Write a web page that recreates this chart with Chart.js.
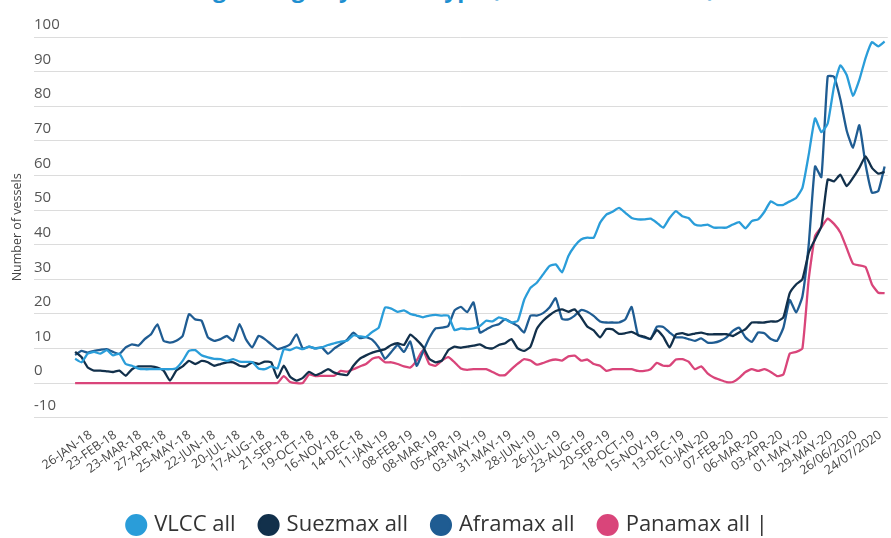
<!DOCTYPE html>
<html>
<head>
<meta charset="utf-8">
<script src="https://cdn.jsdelivr.net/npm/chart.js@4.4.1/dist/chart.umd.min.js"></script>
<style>
  html, body { margin: 0; padding: 0; background: #fff; overflow: hidden; }
  #wrap { position: relative; width: 891px; height: 538px; overflow: hidden; }
  #title {
    position: absolute; left: 133px; top: -24px;
    font: bold 23px "Open Sans", sans-serif; line-height: 24px;
    color: #1e8fd0; white-space: nowrap;
  }
  #box { position: absolute; left: 0; top: 0; width: 891px; height: 538px; }
</style>
</head>
<body>
<div id="wrap">
  <div id="title">Floating storage by vessel type (number of vessels)</div>
  <div id="box"><canvas id="chart"></canvas></div>
</div>
<script>
// Tick labels, one every 4 weekly observations
const tickLabels = ['26-JAN-18', '23-FEB-18', '23-MAR-18', '27-APR-18', '25-MAY-18', '22-JUN-18', '20-JUL-18',
  '17-AUG-18', '21-SEP-18', '19-OCT-18', '16-NOV-18', '14-DEC-18', '11-JAN-19', '08-FEB-19', '08-MAR-19',
  '05-APR-19', '03-MAY-19', '31-MAY-19', '28-JUN-19', '26-JUL-19', '23-AUG-19', '20-SEP-19', '18-OCT-19',
  '15-NOV-19', '13-DEC-19', '10-JAN-20', '07-FEB-20', '06-MAR-20', '03-APR-20', '01-MAY-20', '29-MAY-20',
  '26/06/2020', '24/07/2020'];

const seriesNames = ['VLCC all', 'Suezmax all', 'Aframax all', 'Panamax all |'];

// Weekly values (number of vessels)
const vlcc = [
  7, 6, 8.5, 9, 8.5, 9.5, 8, 8.5, 5.5, 5, 4.2, 4, 4, 4, 4, 4, 4.3, 6.4, 9.3, 9.5, 8, 7.4, 7, 6.9, 6.4, 6.9,
  6.2, 6.1, 6.1, 4.2, 4, 4.8, 4.2, 9.8, 9.5, 10.3, 9.8, 10.5, 10, 10.3, 11, 11.5,
  12, 12.2, 13.8, 13.5, 13.3, 14.8, 16, 21.8, 21.5, 20.6, 21, 20, 19.5, 19, 19.5, 19.7, 19.5, 19.5, 15.3, 15.8,
  15.6, 15.8,
  16.5, 18, 17.8, 19, 18.4, 17.5, 18, 24, 27.5, 29, 31.4, 33.8, 34.3, 32, 36.7, 39.6, 41.5, 42, 42, 46.3, 48.7,
  49.5, 50.6, 49.2, 47.7, 47.3, 47.3, 47.5, 46.3, 44.9, 47.7, 49.7, 48.2, 47.7, 45.8, 45.5, 45.8, 44.9,
  44.9, 44.9, 45.8, 46.5, 44.7, 46.8, 47.3, 49.5, 52.5, 51.5, 51.5, 52.5, 53.5, 56.4, 66, 76.5, 72.5, 75, 85.7,
  91.8, 89, 83, 87.6, 94, 98.5, 97.3, 98.7];

const suezmax = [
  9, 7.5, 4.5, 3.6, 3.6, 3.4, 3.2, 3.6, 2.1, 4, 4.8, 4.8, 4.8, 4.5, 3.6, 0.7, 3.6, 4.8, 6.4, 5.5, 6.4, 6, 5,
  5.5, 6, 6, 5, 4.8, 6, 5.5, 6.2, 6, 1.5, 5, 1.8, 0.7,
  1.5, 3.2, 2.3, 3, 4, 3, 2.5, 2.3, 5, 7, 8, 8.8,
  9.3, 9.8, 11, 11.5, 11, 14, 12.5, 10.5, 7, 6, 6.5, 9.5, 10.5, 10.2, 10.5, 10.8,
  11.2, 10.2, 10, 11, 11.5, 12.7, 10, 9.3, 10.5, 15.6, 18, 19.6, 20.8, 21.3, 20.6, 21.3,
  19, 16.3, 15.2, 13.2, 15.6, 15.5, 14.2, 14.4, 14.8, 13.9, 13.4, 12.8, 15.3, 13.4, 10.3, 14, 14.4, 13.9,
  14.3, 14.6, 14.1, 14.1,
  14.1, 14.1, 13.6, 14.6, 15.6, 17.5, 17.5, 17.5, 17.8, 17.8, 19, 26, 28.5, 30, 37.7, 41.5, 45.3, 58.8, 58.3,
  60.2, 56.9, 59.3, 62.2, 65.5, 62.2, 60.5, 61];

const aframax = [
  8.1, 9.3, 8.8, 9.3, 9.6, 9.8, 9, 8.4, 10.3, 11.2, 10.8, 12.7, 14.1, 17, 12.2, 11.7, 12.2, 13.6, 19.9, 18.4,
  18, 13.2, 12.2, 12.7, 13.6, 12.2, 17, 12.7, 10.3, 13.6, 12.7, 11.2, 9.8, 10.3, 11.2, 14.1,
  10, 10.5, 10, 10.3, 8.5, 10, 11.2, 12.5, 14.6, 13, 13.3, 12.5,
  10.3, 7, 9, 11, 9, 12, 5, 9, 13, 15.8, 16, 16.5, 21, 22, 20.5, 23.3,
  14.6, 15.5, 16.5, 17, 18.5, 17.5, 16.5, 14.6, 19.5, 19.5, 20.2, 21.8, 24.5, 18.5, 18.4, 19.5,
  21.1, 20.6, 19.4, 17.8, 17.5, 17.5, 17.5, 18.4, 22, 13.9, 13.2, 12.7, 16.3, 16.2, 14.6, 13.2, 13.2, 12.7,
  12.2, 12.9, 11.7, 11.7,
  12.2, 13.2, 15.1, 16, 13.2, 11.9, 14.6, 14.4, 12.7, 12.2, 16, 24, 20.4, 25, 40, 62.6, 59.5, 88.6, 88.5,
  82, 73, 68, 74.5, 63, 55, 55.5, 62.6];

const panamax = [
  0, 0, 0, 0, 0, 0, 0, 0, 0, 0, 0, 0, 0, 0, 0, 0, 0, 0, 0, 0, 0, 0, 0, 0, 0, 0, 0, 0, 0, 0, 0, 0, 0,
  2, 0.3, 0,
  0, 2.5, 2, 2.1, 2.1, 2.1, 3.5, 3.3, 4, 4.8, 5.5, 7,
  7.5, 6, 6, 5.5, 4.8, 4.5, 6.5, 9.5, 5.5, 5, 6.5, 7.5, 6, 4.2, 3.8, 4,
  4, 4, 3.2, 2.3, 2.3, 4, 5.6, 6.9, 6.5, 5.3, 5.8, 6.5, 6.8, 6.5, 7.7, 7.9,
  6.5, 6.8, 5.5, 5, 3.5, 4, 4, 4, 4, 3.5, 3.5, 4, 5.8, 5, 5, 6.8, 6.9, 6.2, 4, 4.8, 2.8, 1.6,
  0.9, 0.3, 0.3, 1.5, 3.2, 4, 3.5, 4, 3.2, 2, 2.5, 8.5, 9, 10, 30, 42.5, 45, 47.5, 46, 43.5, 39, 34.5, 34,
  33.5, 28.5, 26.1, 26];

const colors = ['#2a9dd9', '#12304b', '#1f5c92', '#d9457a'];
const FONT = '"Open Sans", sans-serif';

const toPoints = arr => arr.map((v, i) => ({ x: i, y: v }));

const datasets = [vlcc, suezmax, aframax, panamax].map((arr, k) => ({
    label: seriesNames[k],
    data: toPoints(arr),
    borderColor: colors[k],
    backgroundColor: colors[k],
    borderWidth: 2.3,
    pointRadius: 0,
    tension: 0.15,
    borderJoinStyle: 'round',
    fill: false
}));

new Chart(document.getElementById('chart'), {
    type: 'line',
    data: { datasets },
    options: {
        responsive: true,
        maintainAspectRatio: false,
        animation: false,
        // legend sits a bit lower than the default layout allows
        layout: { padding: { top: 37, left: 6, right: 0, bottom: -8 } },
        scales: {
            x: {
                type: 'linear',
                min: -6.5,
                max: 128.5,
                display: false
            },
            // axis used only to place the date labels
            xLabels: {
                type: 'linear',
                position: 'bottom',
                min: -2.3,
                max: 32.3,
                afterBuildTicks: (scale) => {
                    scale.ticks = tickLabels.map((_, k) => ({ value: k }));
                },
                afterFit: (scale) => { scale.height += 8; },
                grid: { display: false },
                border: { display: false },
                ticks: {
                    autoSkip: false,
                    minRotation: 35,
                    maxRotation: 35,
                    padding: 2,
                    color: '#444',
                    font: { family: FONT, size: 12.5 },
                    callback: (v) => tickLabels[v]
                }
            },
            y: {
                min: -10,
                max: 100,
                grid: { color: '#dcdcdc', lineWidth: 1, drawTicks: false },
                border: { display: false },
                ticks: {
                    stepSize: 10,
                    mirror: true,
                    padding: 0,
                    labelOffset: -12,
                    color: '#555',
                    font: { family: FONT, size: 15 }
                },
                title: {
                    display: true,
                    text: 'Number of vessels',
                    color: '#444',
                    font: { family: FONT, size: 12.5 },
                    padding: { top: 4, bottom: 9 }
                }
            }
        },
        plugins: {
            legend: {
                position: 'bottom',
                labels: {
                    usePointStyle: true,
                    pointStyle: 'circle',
                    boxWidth: 14,
                    boxHeight: 14,
                    padding: 26,
                    color: '#333',
                    font: { family: FONT, size: 22 }
                }
            },
            tooltip: { enabled: false }
        }
    }
});
</script>
</body>
</html>
